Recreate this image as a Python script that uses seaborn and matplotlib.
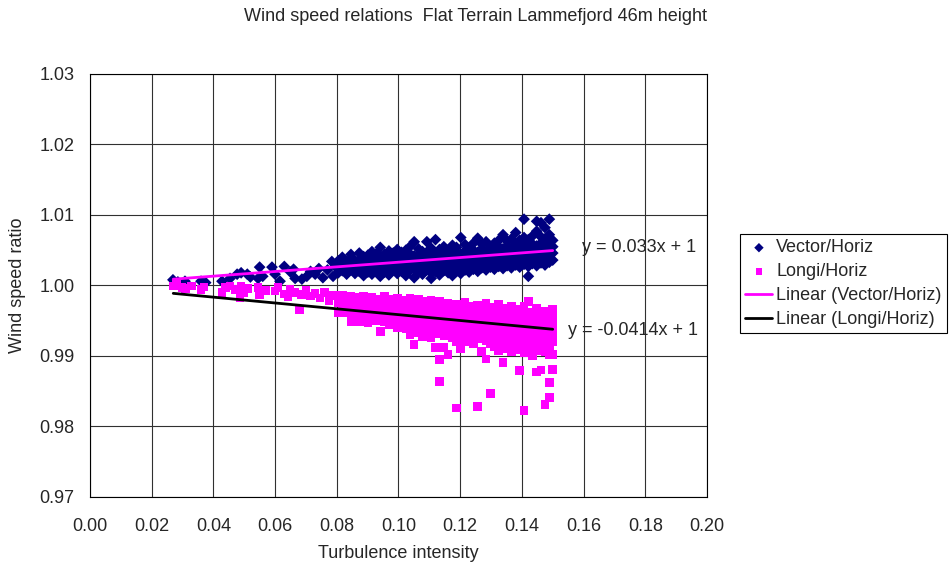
import pandas as pd
import seaborn as sns
import matplotlib.pyplot as plt

# --- data ---
# sparse points of Vector/Horiz at low turbulence
vec_sparse_x = [0.0269, 0.0285, 0.0308, 0.0360, 0.0375, 0.0428, 0.0454, 0.0477, 0.0490, 0.0510,
                0.0520, 0.0545, 0.0550, 0.0560, 0.0590, 0.0600, 0.0616, 0.0630, 0.0650, 0.0660,
                0.0665, 0.0687, 0.0703, 0.0715, 0.0730, 0.0742, 0.0755, 0.0770, 0.0784, 0.0788,
                0.0795]
vec_sparse_y = [1.0008, 1.0005, 1.0006, 1.0006, 1.0004, 1.0006, 1.0010, 1.0016, 1.0018, 1.0016,
                1.0012, 1.0010, 1.0026, 1.0013, 1.0026, 1.0016, 1.0006, 1.0027, 1.0019, 1.0023,
                1.0010, 1.0009, 1.0013, 1.0020, 1.0016, 1.0024, 1.0011, 1.0022, 1.0034, 1.0013,
                1.0027]

# dense band of Vector/Horiz: one x per column, several y per column
vec_cols_x = [0.0805, 0.0818, 0.0832, 0.0846, 0.0859, 0.0873, 0.0887, 0.0901, 0.0914, 0.0928,
              0.0941, 0.0955, 0.0969, 0.0983, 0.0996, 0.1010, 0.1024, 0.1037, 0.1051, 0.1065,
              0.1078, 0.1092, 0.1106, 0.1120, 0.1133, 0.1147, 0.1161, 0.1175, 0.1188, 0.1202,
              0.1216, 0.1229, 0.1243, 0.1257, 0.1270, 0.1284, 0.1298, 0.1311, 0.1325, 0.1339,
              0.1352, 0.1366, 0.1380, 0.1393, 0.1407, 0.1421, 0.1434, 0.1448, 0.1462, 0.1475,
              0.1489, 0.1500]
vec_cols_y = [
    [1.0018, 1.0027, 1.0035], [1.0021, 1.0031, 1.0040], [1.0016, 1.0025, 1.0034],
    [1.0022, 1.0030, 1.0038, 1.0044], [1.0017, 1.0026, 1.0035], [1.0020, 1.0029, 1.0037, 1.0046],
    [1.0014, 1.0024, 1.0033, 1.0041], [1.0019, 1.0028, 1.0036, 1.0043],
    [1.0016, 1.0025, 1.0032, 1.0040, 1.0048], [1.0021, 1.0030, 1.0038, 1.0045],
    [1.0013, 1.0024, 1.0034, 1.0042, 1.0054], [1.0019, 1.0028, 1.0036, 1.0044],
    [1.0015, 1.0026, 1.0033, 1.0041, 1.0049], [1.0022, 1.0031, 1.0039, 1.0046],
    [1.0017, 1.0027, 1.0035, 1.0043, 1.0051], [1.0020, 1.0030, 1.0038, 1.0047],
    [1.0014, 1.0025, 1.0033, 1.0041, 1.0050], [1.0021, 1.0029, 1.0037, 1.0045, 1.0055],
    [1.0011, 1.0024, 1.0034, 1.0042, 1.0062], [1.0019, 1.0028, 1.0036, 1.0044, 1.0052],
    [1.0016, 1.0026, 1.0033, 1.0040, 1.0048], [1.0022, 1.0031, 1.0039, 1.0047, 1.0062],
    [1.0010, 1.0018, 1.0027, 1.0035, 1.0043, 1.0053], [1.0020, 1.0030, 1.0038, 1.0046, 1.0065],
    [1.0015, 1.0025, 1.0034, 1.0042, 1.0051], [1.0021, 1.0029, 1.0037, 1.0045, 1.0055],
    [1.0018, 1.0027, 1.0035, 1.0043, 1.0050], [1.0014, 1.0024, 1.0032, 1.0040, 1.0048, 1.0057],
    [1.0020, 1.0030, 1.0038, 1.0046, 1.0054], [1.0017, 1.0026, 1.0035, 1.0044, 1.0068],
    [1.0022, 1.0031, 1.0040, 1.0049, 1.0058], [1.0019, 1.0028, 1.0036, 1.0045, 1.0053],
    [1.0023, 1.0033, 1.0041, 1.0050, 1.0060], [1.0020, 1.0029, 1.0038, 1.0047, 1.0067],
    [1.0025, 1.0034, 1.0043, 1.0052, 1.0059], [1.0022, 1.0031, 1.0040, 1.0048, 1.0062],
    [1.0026, 1.0036, 1.0045, 1.0054], [1.0023, 1.0032, 1.0041, 1.0050, 1.0060],
    [1.0027, 1.0037, 1.0046, 1.0055, 1.0064], [1.0024, 1.0034, 1.0043, 1.0052, 1.0072],
    [1.0028, 1.0038, 1.0047, 1.0056, 1.0063], [1.0025, 1.0035, 1.0044, 1.0053, 1.0066],
    [1.0029, 1.0039, 1.0048, 1.0057, 1.0075], [1.0026, 1.0036, 1.0045, 1.0054, 1.0064],
    [1.0030, 1.0040, 1.0049, 1.0058, 1.0068, 1.0094], [1.0013, 1.0027, 1.0037, 1.0046, 1.0055, 1.0065],
    [1.0031, 1.0041, 1.0050, 1.0059, 1.0070], [1.0028, 1.0038, 1.0047, 1.0056, 1.0077, 1.0091],
    [1.0032, 1.0042, 1.0051, 1.0060, 1.0069, 1.0089], [1.0029, 1.0039, 1.0048, 1.0057, 1.0066, 1.0082],
    [1.0033, 1.0043, 1.0052, 1.0061, 1.0072, 1.0094], [1.0036, 1.0046, 1.0055, 1.0064],
]

# sparse points of Longi/Horiz at low turbulence
lon_sparse_x = [0.0270, 0.0280, 0.0298, 0.0310, 0.0330, 0.0360, 0.0370, 0.0428, 0.0440, 0.0454,
                0.0470, 0.0486, 0.0490, 0.0497, 0.0510, 0.0545, 0.0550, 0.0570, 0.0600, 0.0610,
                0.0630, 0.0642, 0.0648, 0.0665, 0.0680, 0.0685, 0.0700, 0.0715, 0.0730, 0.0745,
                0.0760, 0.0775, 0.0790]
lon_sparse_y = [0.9999, 1.0001, 0.9997, 0.9996, 0.9999, 0.9994, 0.9998, 0.9990, 0.9997, 0.9999,
                0.9994, 0.9983, 0.9999, 0.9990, 0.9996, 0.9997, 0.9987, 0.9993, 0.9992, 0.9997,
                0.9988, 0.9984, 0.9994, 0.9990, 0.9966, 0.9987, 0.9993, 0.9985, 0.9989, 0.9982,
                0.9990, 0.9979, 0.9986]

# dense band of Longi/Horiz
lon_cols_x = vec_cols_x
lon_cols_y = [
    [0.9962, 0.9975, 0.9983], [0.9968, 0.9978, 0.9986], [0.9962, 0.9971, 0.9980],
    [0.9949, 0.9966, 0.9976, 0.9984], [0.9962, 0.9970, 0.9979], [0.9949, 0.9965, 0.9974, 0.9983],
    [0.9958, 0.9968, 0.9977, 0.9985], [0.9947, 0.9962, 0.9971, 0.9980],
    [0.9955, 0.9965, 0.9975, 0.9983], [0.9950, 0.9960, 0.9969, 0.9978],
    [0.9935, 0.9953, 0.9963, 0.9972, 0.9981], [0.9948, 0.9958, 0.9967, 0.9976, 0.9984],
    [0.9944, 0.9954, 0.9963, 0.9972, 0.9980], [0.9945, 0.9950, 0.9960, 0.9969, 0.9978],
    [0.9940, 0.9952, 0.9962, 0.9971, 0.9982], [0.9946, 0.9956, 0.9966, 0.9975],
    [0.9938, 0.9949, 0.9959, 0.9968, 0.9979], [0.9930, 0.9943, 0.9953, 0.9962, 0.9972, 0.9982],
    [0.9916, 0.9939, 0.9948, 0.9957, 0.9967, 0.9976], [0.9933, 0.9944, 0.9953, 0.9963, 0.9973, 0.9981],
    [0.9928, 0.9940, 0.9950, 0.9959, 0.9969, 0.9978], [0.9934, 0.9945, 0.9955, 0.9965, 0.9975],
    [0.9926, 0.9938, 0.9948, 0.9958, 0.9968, 0.9979], [0.9912, 0.9931, 0.9942, 0.9952, 0.9962, 0.9972],
    [0.9864, 0.9895, 0.9936, 0.9946, 0.9956, 0.9966, 0.9977], [0.9912, 0.9929, 0.9940, 0.9950, 0.9960, 0.9970],
    [0.9902, 0.9933, 0.9944, 0.9954, 0.9964, 0.9975], [0.9926, 0.9937, 0.9947, 0.9957, 0.9968],
    [0.9826, 0.9920, 0.9932, 0.9942, 0.9952, 0.9962, 0.9973], [0.9910, 0.9927, 0.9938, 0.9948, 0.9958, 0.9969],
    [0.9922, 0.9933, 0.9943, 0.9953, 0.9964, 0.9976], [0.9920, 0.9928, 0.9939, 0.9949, 0.9959, 0.9970],
    [0.9917, 0.9934, 0.9945, 0.9955, 0.9966], [0.9828, 0.9924, 0.9930, 0.9941, 0.9951, 0.9961, 0.9972],
    [0.9906, 0.9926, 0.9936, 0.9946, 0.9957, 0.9967], [0.9896, 0.9921, 0.9932, 0.9942, 0.9952, 0.9963, 0.9975],
    [0.9847, 0.9918, 0.9928, 0.9938, 0.9948, 0.9959, 0.9969], [0.9913, 0.9924, 0.9934, 0.9944, 0.9955, 0.9965],
    [0.9908, 0.9919, 0.9930, 0.9940, 0.9950, 0.9961, 0.9973], [0.9891, 0.9915, 0.9926, 0.9936, 0.9946, 0.9957, 0.9967],
    [0.9910, 0.9922, 0.9932, 0.9942, 0.9953, 0.9963], [0.9906, 0.9918, 0.9928, 0.9938, 0.9949, 0.9960, 0.9971],
    [0.9912, 0.9924, 0.9934, 0.9945, 0.9956, 0.9966], [0.9879, 0.9909, 0.9920, 0.9930, 0.9941, 0.9952, 0.9962],
    [0.9823, 0.9905, 0.9916, 0.9926, 0.9937, 0.9948, 0.9959, 0.9970], [0.9912, 0.9922, 0.9933, 0.9944, 0.9955, 0.9977],
    [0.9901, 0.9918, 0.9929, 0.9940, 0.9951, 0.9962], [0.9877, 0.9907, 0.9914, 0.9925, 0.9936, 0.9947, 0.9958, 0.9968],
    [0.9880, 0.9910, 0.9921, 0.9932, 0.9943, 0.9954], [0.9831, 0.9906, 0.9917, 0.9928, 0.9939, 0.9950, 0.9963],
    [0.9841, 0.9862, 0.9902, 0.9913, 0.9924, 0.9935, 0.9946, 0.9957], [0.9881, 0.9902, 0.9920, 0.9931, 0.9942, 0.9953, 0.9966],
]

# trend lines (Excel linear fit, intercept 1)
trend_x = [0.027, 0.150]
vec_slope = 0.033
lon_slope = -0.0414

x_ticks = [0.00, 0.02, 0.04, 0.06, 0.08, 0.10, 0.12, 0.14, 0.16, 0.18, 0.20]
y_ticks = [0.97, 0.98, 0.99, 1.00, 1.01, 1.02, 1.03]


def build(name, sx, sy, cx, cy):
    rows = [(name, x, y) for x, y in zip(sx, sy)]
    for x, ys in zip(cx, cy):
        rows += [(name, x, y) for y in ys]
    return pd.DataFrame(rows, columns=['series', 'ti', 'ratio'])


vec = build('Vector/Horiz', vec_sparse_x, vec_sparse_y, vec_cols_x, vec_cols_y)
lon = build('Longi/Horiz', lon_sparse_x, lon_sparse_y, lon_cols_x, lon_cols_y)

sns.set_style('white')
plt.rcParams['font.family'] = ['Liberation Sans', 'DejaVu Sans']
plt.rcParams['font.size'] = 13

fig = plt.figure(figsize=(9.52, 5.62), dpi=100)
ax = fig.add_axes([0.0945, 0.1157, 0.6481, 0.7527])

sns.scatterplot(data=vec, x='ti', y='ratio', marker='D', s=36, color='#000080',
                edgecolor='none', label='Vector/Horiz', ax=ax, zorder=3)
sns.scatterplot(data=lon, x='ti', y='ratio', marker='s', s=38, color='#FF00FF',
                edgecolor='none', label='Longi/Horiz', ax=ax, zorder=3)
sns.lineplot(x=trend_x, y=[1 + vec_slope * x for x in trend_x], color='#FF00FF', lw=2,
             label='Linear (Vector/Horiz)', ax=ax, zorder=4)
sns.lineplot(x=trend_x, y=[1 + lon_slope * x for x in trend_x], color='black', lw=2,
             label='Linear (Longi/Horiz)', ax=ax, zorder=4)

ax.text(0.1595, 1.0054, 'y = 0.033x + 1', va='center', ha='left', fontsize=13)
ax.text(0.1550, 0.99362, 'y = -0.0414x + 1', va='center', ha='left', fontsize=13)

ax.set_xlim(0, 0.20)
ax.set_ylim(0.97, 1.03)
ax.set_xticks(x_ticks)
ax.set_yticks(y_ticks)
ax.set_xticklabels([f'{t:.2f}' for t in x_ticks])
ax.set_yticklabels([f'{t:.2f}' for t in y_ticks])
ax.grid(True, color='#303030', lw=0.8)
ax.set_axisbelow(True)
for sp in ax.spines.values():
    sp.set_color('black')
    sp.set_linewidth(0.8)
ax.tick_params(axis='both', direction='out', length=5, width=0.8, color='black', labelsize=13)
ax.tick_params(axis='x', pad=10)
ax.tick_params(axis='y', pad=6)

ax.set_xlabel('Turbulence intensity', fontsize=13, labelpad=7)
ax.set_ylabel('Wind speed ratio', fontsize=13, labelpad=10)
fig.suptitle('Wind speed relations  Flat Terrain Lammefjord 46m height', x=0.5, y=0.985,
             va='top', fontsize=13)

ax.legend(loc='upper left', bbox_to_anchor=(0.7773, 0.5836), bbox_transform=fig.transFigure,
          frameon=True, fancybox=False, edgecolor='black', framealpha=1, fontsize=13,
          borderpad=0.3, handlelength=1.5, handletextpad=0.2, labelspacing=0.38,
          borderaxespad=0, markerscale=0.8)
ax.get_legend().get_frame().set_linewidth(0.8)

fig.savefig('out.png', dpi=100)
